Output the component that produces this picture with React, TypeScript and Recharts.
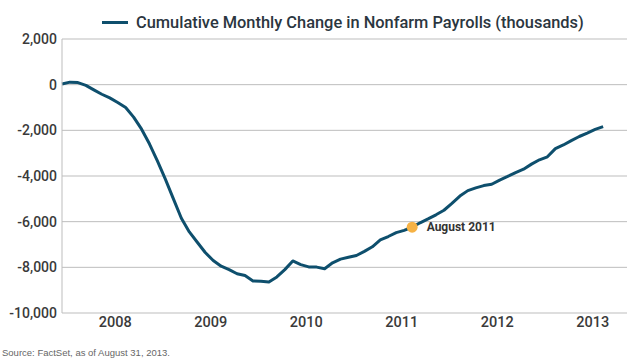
import { LineChart, Line, XAxis, YAxis, CartesianGrid, ReferenceDot } from "recharts";

const START_YEAR = 2007;
const START_MONTH = 11; // Dec 2007 (0-based month)

// cumulative change in nonfarm payrolls since Dec 2007, thousands
const PAYROLLS = [
  30, 110, 90, -30, -230, -420, -580, -780, -1000, -1420, -1950, -2600,
  -3350, -4150, -5000, -5850, -6450, -6900, -7350, -7700, -7950, -8100, -8280, -8360,
  -8600, -8610, -8640, -8420, -8100, -7720, -7880, -7980, -7990, -8060, -7800, -7640,
  -7560, -7480, -7300, -7100, -6800, -6650, -6480, -6380, -6240, -6050, -5880, -5700,
  -5500, -5200, -4880, -4640, -4520, -4420, -4360, -4180, -4020, -3850, -3700, -3480,
  -3290, -3160, -2800, -2640, -2450, -2270, -2120, -1960, -1840,
];

const MONTH_NAMES = ["Jan", "Feb", "Mar", "Apr", "May", "Jun", "Jul", "Aug", "Sep", "Oct", "Nov", "Dec"];
const MONTHS = PAYROLLS.map((_, i) => {
  const m = START_MONTH + i;
  return `${MONTH_NAMES[m % 12]} ${START_YEAR + Math.floor(m / 12)}`;
});

const YEAR_LABELS = ["2008", "2009", "2010", "2011", "2012", "2013"];
const YEAR_TICKS = [6.7, 18.7, 30.7, 42.7, 54.7, 66.7];
const Y_TICKS = [2000, 0, -2000, -4000, -6000, -8000, -10000];

const MARKER_MONTH = "Aug 2011";
const MARKER_LABEL = "August 2011";

const LINE = "#0e4f6d";
const GRID = "#bdbdbd";
const FONT = "Roboto, 'Noto Sans', sans-serif";

const data = PAYROLLS.map((v, i) => ({ i, month: MONTHS[i], value: v }));
const markerIdx = MONTHS.indexOf(MARKER_MONTH);

export default function App() {
  return (
    <div style={{ position: "absolute", left: 0, top: 0, width: 640, height: 363, background: "#fff" }}>
      <div
        style={{
          position: "absolute",
          left: 102,
          top: 11,
          height: 22,
          display: "flex",
          alignItems: "center",
          fontFamily: FONT,
          whiteSpace: "nowrap",
        }}
      >
        <span style={{ display: "inline-block", width: 26, height: 3, background: LINE, marginRight: 8 }} />
        <span style={{ fontSize: 16.4, fontWeight: 500, color: "#2b3640" }}>
          Cumulative Monthly Change in Nonfarm Payrolls (thousands)
        </span>
      </div>
      <LineChart width={640} height={363} data={data} margin={{ top: 39, right: 13, left: 0, bottom: 0 }}>
        <CartesianGrid vertical={false} stroke={GRID} strokeWidth={1} />
        <XAxis
          type="number"
          dataKey="i"
          domain={[0, 71]}
          ticks={YEAR_TICKS}
          tickFormatter={(v) => YEAR_LABELS[YEAR_TICKS.indexOf(v)]}
          axisLine={false}
          tickLine={false}
          tickSize={2}
          tickMargin={2}
          height={50}
          tick={{ fill: "#3a3a3a", fontSize: 14.5, fontWeight: 500, fontFamily: FONT }}
        />
        <YAxis
          domain={[-10000, 2000]}
          ticks={Y_TICKS}
          width={62}
          axisLine={{ stroke: GRID }}
          tickLine={false}
          tickSize={3}
          tickMargin={2}
          tickFormatter={(v) => v.toLocaleString("en-US")}
          tick={{ fill: "#3a3a3a", fontSize: 14, fontWeight: 500, fontFamily: FONT }}
        />
        <Line
          type="linear"
          dataKey="value"
          stroke={LINE}
          strokeWidth={3}
          strokeLinejoin="round"
          dot={false}
          isAnimationActive={false}
        />
        <ReferenceDot
          x={markerIdx}
          y={PAYROLLS[markerIdx]}
          r={5.5}
          fill="#f6b245"
          stroke="none"
          label={{
            value: MARKER_LABEL,
            position: "right",
            offset: 9,
            fill: "#333",
            fontSize: 12,
            fontWeight: 700,
            fontFamily: FONT,
          }}
        />
      </LineChart>
      <div
        style={{
          position: "absolute",
          left: 2,
          top: 347,
          fontFamily: "'Liberation Sans', Arial, sans-serif",
          fontSize: 9.5,
          color: "#666",
        }}
      >
        Source: FactSet, as of August 31, 2013.
      </div>
    </div>
  );
}
